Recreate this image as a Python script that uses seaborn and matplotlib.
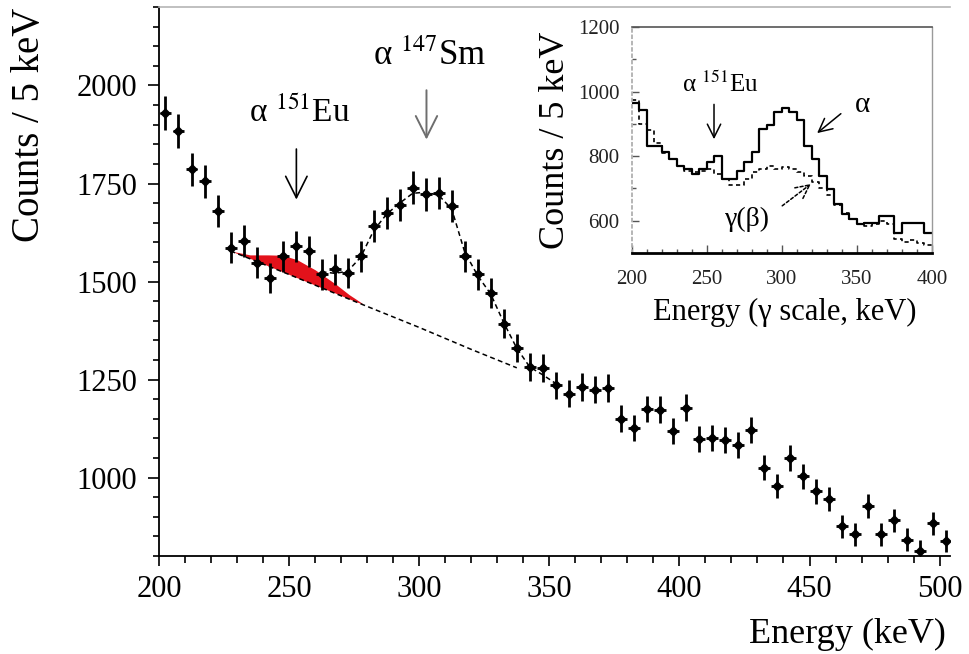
import numpy as np
import pandas as pd
import matplotlib
matplotlib.use("Agg")
import matplotlib.pyplot as plt
import seaborn as sns
from matplotlib.ticker import MultipleLocator

# ---------------- main spectrum (5 keV bins) ----------------
bin_width = 5.0
energy = np.arange(202.5, 505.0, bin_width)          # bin centres, keV
counts = [1930, 1885, 1786, 1756, 1679, 1586, 1603, 1548, 1509, 1565,
          1590, 1577, 1518, 1531, 1522, 1565, 1641, 1675, 1696, 1739,
          1722, 1726, 1692, 1565, 1518, 1471, 1393, 1331, 1282, 1280,
          1235, 1214, 1231, 1224, 1229, 1150, 1127, 1175, 1173, 1118,
          1178, 1099, 1100, 1095, 1084, 1122, 1025, 978, 1050, 1003,
          965, 946, 876, 855, 927, 855, 891, 842, 812, 883, 838]

# fitted background under the peaks
bg_energy = [227.5, 250.0, 275.0, 300.0, 320.0, 337.5]
bg_counts = [1578, 1518, 1450, 1383, 1327, 1280]

# fitted total (background + 147Sm alpha peak)
fit_energy = [262.5, 267.5, 272.5, 277.5, 282.5, 287.5, 292.5, 297.5, 302.5,
              307.5, 312.5, 317.5, 322.5, 327.5, 332.5, 337.5, 342.5, 347.5, 352.5]
fit_counts = [1525, 1521, 1526, 1562, 1630, 1672, 1700, 1725, 1728,
              1720, 1685, 1575, 1515, 1468, 1395, 1330, 1282, 1262, 1240]

# 151Eu alpha contribution (upper edge of the filled band)
eu_energy = [227.5, 235.0, 242.0, 247.5, 253.0, 260.0, 268.0, 273.0, 278.0]
eu_upper = [1578, 1568, 1568, 1567, 1556, 1530, 1493, 1467, 1445]
eu_lower = [1578, 1559, 1540, 1525, 1510, 1491, 1470, 1456, 1443]

# ---------------- inset: gamma-scale histograms ----------------
inset_edges = [200.0 + 5.0 * i for i in range(41)]
inset_total = [964, 943, 833, 830, 812, 792, 771, 760, 745, 760,
               781, 802, 729, 729, 755, 781, 812, 885, 896, 937,
               950, 937, 911, 833, 792, 740, 698, 651, 620, 604,
               589, 594, 594, 615, 615, 562, 594, 594, 594, 562]
inset_gamma = [975, 900, 880, 840, 810, 790, 770, 755, 750, 755,
               760, 745, 730, 710, 710, 730, 750, 760, 770, 760,
               765, 760, 750, 738, 720, 700, 680, 650, 625, 605,
               590, 585, 590, 600, 590, 545, 535, 540, 530, 525]

# ---------------- style ----------------
sns.set_theme(style="ticks")
plt.rcParams["font.family"] = ["Liberation Serif", "DejaVu Serif"]
plt.rcParams["mathtext.fontset"] = "stix"
plt.rcParams["axes.linewidth"] = 1.3
for key in ("text.color", "axes.labelcolor", "xtick.color", "ytick.color",
            "axes.edgecolor"):
    plt.rcParams[key] = "black"

fig = plt.figure(figsize=(9.7, 6.54), dpi=100)
fig.patch.set_facecolor("white")

ax = fig.add_axes([0.1639, 0.1498, 0.8155, 0.8394])
ax.set_facecolor("white")

# Eu band
ax.fill_between(eu_energy, eu_lower, eu_upper, color="#e3121b", lw=0, zorder=2)

# background and total fit
dash = (0, (3.2, 2.2))
sns.lineplot(x=bg_energy, y=bg_counts, ax=ax, color="black", lw=1.1,
             linestyle=dash, zorder=3)
sns.lineplot(x=fit_energy, y=fit_counts, ax=ax, color="black", lw=1.1,
             linestyle=dash, zorder=3)

# data with Poisson errors
ax.errorbar(energy, counts, yerr=np.sqrt(counts), xerr=2.3, fmt="none",
            ecolor="black", elinewidth=2.0, capsize=0, zorder=4)
sns.scatterplot(x=energy, y=counts, ax=ax, marker="D", s=26, color="black",
                edgecolor="black", linewidth=0.5, zorder=5, legend=False)

ax.set_xlim(200, 504)
ax.set_ylim(800, 2200)
ax.xaxis.set_major_locator(MultipleLocator(50))
ax.xaxis.set_minor_locator(MultipleLocator(10))
ax.yaxis.set_minor_locator(MultipleLocator(50))
ax.set_yticks([1000, 1250, 1500, 1750, 2000])
ax.tick_params(axis="both", which="both", direction="out", color="black",
               labelcolor="black", labelsize=22, width=1.2)
ax.tick_params(axis="y", which="major", length=8, pad=8)
ax.tick_params(axis="y", which="minor", length=4.5)
ax.tick_params(axis="x", which="major", length=7, pad=7)
ax.tick_params(axis="x", which="minor", length=5)
ax.spines["left"].set_color("black")
ax.spines["bottom"].set_color("black")
ax.spines["right"].set_visible(False)
ax.spines["top"].set_color("#b5b5b5")
ax.spines["top"].set_linewidth(1.2)

ax.set_xlabel("Energy (keV)", fontsize=26, color="black")
ax.xaxis.set_label_coords(0.87, -0.112)
ax.set_ylabel("Counts / 5 keV", fontsize=28, color="black")
ax.yaxis.set_label_coords(-0.14, 0.785)

# peak markers
ax.text(254.2, 1906, "\u03b1 $^{151}$Eu", fontsize=24,
        ha="center", va="baseline")
ax.annotate("", xy=(252.8, 1702), xytext=(252.8, 1845),
            arrowprops=dict(arrowstyle="->,head_length=0.7,head_width=0.35",
                            lw=1.2, color="black", mutation_scale=22))
ax.text(304.1, 2051, "\u03b1 $^{147}$Sm", fontsize=25,
        ha="center", va="baseline")
ax.annotate("", xy=(302.8, 1855), xytext=(302.8, 1995),
            arrowprops=dict(arrowstyle="->,head_length=0.7,head_width=0.35",
                            lw=1.4, color="#6e6e6e", mutation_scale=22))

# ---------------- inset ----------------
ins = fig.add_axes([0.6515, 0.6131, 0.3093, 0.3456])
ins.set_facecolor("white")
centres = [e + bin_width / 2 for e in inset_edges[:-1]]
hist_df = pd.DataFrame({"energy": centres, "total": inset_total,
                        "gamma": inset_gamma})
sns.histplot(data=hist_df, x="energy", weights="gamma", bins=inset_edges,
             element="step", fill=False, color="black",
             linestyle=(0, (2.5, 2.0)), lw=1.2, ax=ins)
sns.histplot(data=hist_df, x="energy", weights="total", bins=inset_edges,
             element="step", fill=False, color="black", lw=1.6, ax=ins)
ins.set_xlim(200, 400)
ins.set_ylim(500, 1200)
ins.set_xticks([200, 250, 300, 350, 400])
ins.xaxis.set_minor_locator(MultipleLocator(10))
ins.set_yticks([600, 800, 1000, 1200])
ins.yaxis.set_minor_locator(MultipleLocator(100))
ins.tick_params(axis="both", which="both", direction="in", labelsize=15,
                color="#555555", labelcolor="#222222", width=1.0)
ins.tick_params(axis="x", which="major", length=6, pad=12)
ins.tick_params(axis="x", which="minor", length=3)
ins.tick_params(axis="y", which="major", length=5, pad=9)
ins.tick_params(axis="y", which="minor", length=3)
ins.spines["bottom"].set_linewidth(2.0)
ins.spines["bottom"].set_color("black")
ins.spines["top"].set_color("#555555")
ins.spines["top"].set_linewidth(1.2)
ins.spines["right"].set_color("#9a9a9a")
ins.spines["right"].set_linewidth(1.0)
ins.spines["left"].set_color("#b0b0b0")
ins.spines["left"].set_linestyle((0, (1.5, 2.0)))
ins.set_xlabel("Energy (\u03b3 scale, keV)", fontsize=22, color="black")
ins.xaxis.set_label_coords(0.51, -0.2)
ins.set_ylabel("Counts / 5 keV", fontsize=26, color="black")
ins.yaxis.set_label_coords(-0.2, 0.5)

ins.text(258.7, 1000, "\u03b1 $^{151}$Eu", fontsize=18,
         ha="center", va="baseline")
ins.annotate("", xy=(254.7, 844), xytext=(254.7, 969),
             arrowprops=dict(arrowstyle="->,head_length=0.6,head_width=0.3",
                             lw=1.1, color="black", mutation_scale=16))
ins.text(354, 959, "\u03b1", fontsize=21, ha="center", va="center")
ins.annotate("", xy=(322, 866), xytext=(340.7, 937),
             arrowprops=dict(arrowstyle="->,head_length=0.6,head_width=0.3",
                             lw=1.1, color="black", mutation_scale=16))
ins.text(277.3, 603, "\u03b3(\u03b2)", fontsize=20, ha="center", va="center")
ins.annotate("", xy=(320.7, 719), xytext=(298.7, 641),
             arrowprops=dict(arrowstyle="->,head_length=0.6,head_width=0.3",
                             lw=1.1, color="black", linestyle=(0, (2, 1.5)),
                             mutation_scale=16))

fig.savefig("out.png", dpi=100, facecolor="white")
